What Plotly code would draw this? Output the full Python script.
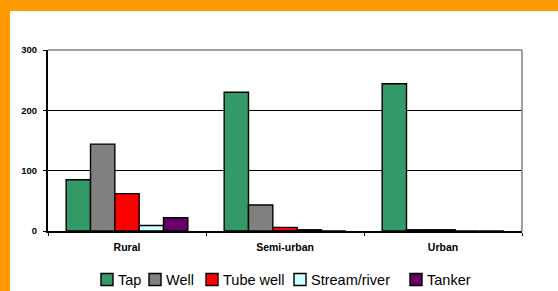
import plotly.graph_objects as go

categories = ["Rural", "Semi-urban", "Urban"]
series_names = ["Tap", "Well", "Tube well", "Stream/river", "Tanker"]
tap = [85, 230, 244]
well = [144, 43, 2]
tube_well = [62, 6, 2]
stream_river = [9, 2, 0]
tanker = [22, 0, 0]
colors = ["#339966", "#808080", "#FF0000", "#CCFFFF", "#660066"]
y_ticks = [0, 100, 200, 300]

values = [tap, well, tube_well, stream_river, tanker]

fig = go.Figure()
for name, vals, col in zip(series_names, values, colors):
    fig.add_trace(go.Bar(
        name=name, x=categories, y=vals, showlegend=False,
        marker=dict(color=col, line=dict(color="black", width=1.4)),
    ))

W, H = 558, 291
ml, mr, mt, mb = 48, 36, 50, 60
pw = W - ml - mr
ph = H - mt - mb

def px_x(p):
    return (p - ml) / pw

def px_y(p):
    return (H - mb - p) / ph

shapes = [
    dict(type="rect", xref="paper", yref="paper", layer="below",
         x0=px_x(10), x1=px_x(W + 5), y0=px_y(H + 5), y1=px_y(11),
         fillcolor="white", line=dict(width=0)),
    dict(type="line", xref="paper", yref="paper", layer="above",
         x0=0, x1=1, y0=1, y1=1, line=dict(color="#808080", width=1.5)),
    dict(type="line", xref="paper", yref="paper", layer="above",
         x0=1, x1=1, y0=0, y1=1, line=dict(color="#808080", width=1.5)),
]
annotations = []

# legend layout (pixel positions of each legend entry's swatch)
legend_swatch_left = [101, 149, 206, 294, 410]
legend_cy = 279.5
sw = 12
for name, col, lx in zip(series_names, colors, legend_swatch_left):
    shapes.append(dict(
        type="rect", xref="paper", yref="paper", layer="above",
        x0=px_x(lx), x1=px_x(lx + sw), y0=px_y(legend_cy + sw / 2), y1=px_y(legend_cy - sw / 2),
        fillcolor=col, line=dict(color="black", width=1.4),
    ))
    annotations.append(dict(
        xref="paper", yref="paper", x=px_x(lx + sw + 3), y=px_y(legend_cy),
        xanchor="left", yanchor="middle", text=name, showarrow=False,
        font=dict(size=14.5, family="Arial", color="black"),
    ))

fig.update_layout(
    width=W, height=H,
    margin=dict(l=ml, r=mr, t=mt, b=mb, autoexpand=False),
    paper_bgcolor="#FF9900",
    plot_bgcolor="white",
    barmode="group",
    bargap=0.23,
    bargroupgap=0,
    font=dict(family="Arial", color="black"),
    showlegend=False,
    shapes=shapes,
    annotations=annotations,
)

fig.update_yaxes(
    range=[0, 300], tickvals=y_ticks, showgrid=True, gridcolor="black", gridwidth=1,
    showline=True, linecolor="black", linewidth=2, ticks="outside", ticklen=3,
    tickcolor="black", tickfont=dict(size=9.5, family="Arial", weight="bold"),
    ticklabelstandoff=4,
    zeroline=False, fixedrange=True, automargin=False,
)
fig.update_xaxes(
    showline=True, linecolor="black", linewidth=2, ticks="outside", ticklen=3,
    tickson="boundaries", tickcolor="black", automargin=False,
    tickfont=dict(size=10.5, family="Arial", weight="bold"), showgrid=False,
    ticklabelstandoff=5,
)

fig.write_html(
    "out.html",
    config={"displayModeBar": False},
    post_script="document.body.style.margin='0';document.body.style.overflow='hidden';",
)
